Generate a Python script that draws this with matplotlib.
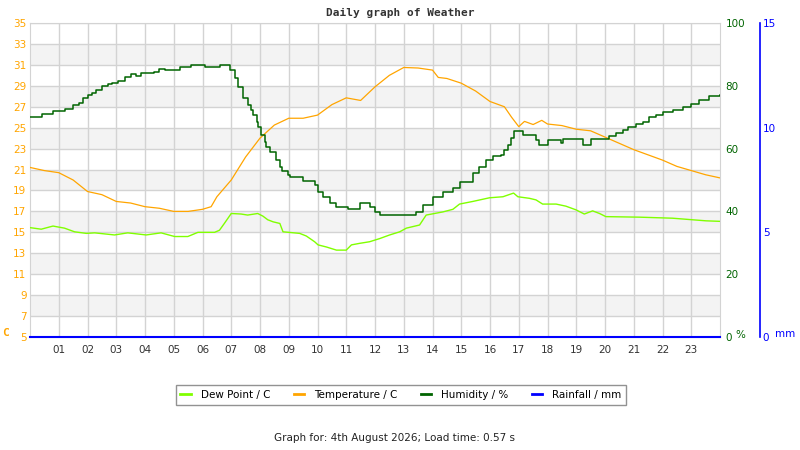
import matplotlib
matplotlib.use("Agg")
import matplotlib.pyplot as plt
from matplotlib.lines import Line2D

# valores (hora do dia -> valor)
temp_hours = [0, 0.5, 1, 1.5, 2, 2.5, 3, 3.5, 4, 4.5, 5, 5.5, 6, 6.3, 6.5, 7, 7.5, 8,
              8.5, 9, 9.5, 10, 10.5, 11, 11.5, 12, 12.5, 13, 13.5, 14, 14.2, 14.5, 15,
              15.5, 16, 16.5, 16.75, 17, 17.2, 17.5, 17.8, 18, 18.5, 19, 19.5, 20,
              20.5, 21, 21.5, 22, 22.5, 23, 23.5, 24]
temp_c = [21.2, 20.9, 20.7, 20.0, 18.9, 18.6, 17.95, 17.8, 17.45, 17.3, 17.0, 17.0, 17.2,
          17.45, 18.4, 20.0, 22.2, 24.0, 25.25, 25.9, 25.9, 26.2, 27.2, 27.85, 27.6,
          28.9, 30.0, 30.75, 30.7, 30.5, 29.8, 29.7, 29.25, 28.5, 27.5, 27.0, 26.0,
          25.1, 25.6, 25.3, 25.7, 25.35, 25.2, 24.85, 24.7, 24.1, 23.5, 22.9, 22.4,
          21.9, 21.3, 20.9, 20.5, 20.2]

dew_hours = [0, 0.39, 0.8, 1.2, 1.55, 1.96, 2.25, 2.94, 3.4, 4.04, 4.56, 5.03, 5.49,
             5.84, 6.42, 6.59, 6.76, 7.0, 7.34, 7.57, 7.92, 8.1, 8.27, 8.46, 8.69, 8.8,
             9.38, 9.61, 9.9, 10.02, 10.31, 10.66, 11.0, 11.18, 11.47, 11.81, 12.16,
             12.51, 12.86, 13.09, 13.55, 13.78, 14.36, 14.71, 14.94, 15.4, 15.98,
             16.45, 16.82, 16.97, 17.37, 17.6, 17.83, 18.3, 18.64, 18.99, 19.28,
             19.57, 19.81, 20.03, 21.19, 22.35, 23.51, 24]
dew_c = [15.45, 15.3, 15.6, 15.4, 15.05, 14.9, 14.95, 14.75, 14.95, 14.75, 14.95, 14.6,
         14.6, 15.0, 15.0, 15.2, 15.85, 16.8, 16.75, 16.65, 16.8, 16.55, 16.2, 16.0,
         15.85, 15.05, 14.9, 14.65, 14.1, 13.8, 13.6, 13.3, 13.3, 13.8, 13.95, 14.1,
         14.4, 14.75, 15.05, 15.4, 15.7, 16.65, 16.95, 17.2, 17.7, 17.95, 18.3, 18.4,
         18.75, 18.4, 18.25, 18.1, 17.7, 17.7, 17.5, 17.15, 16.75, 17.05, 16.8, 16.5,
         16.45, 16.35, 16.1, 16.05]

hum_hours = [0, 0.4, 0.8, 1.2, 1.5, 1.7, 1.85, 2.0, 2.15, 2.3, 2.5, 2.7, 2.85, 3.05,
             3.3, 3.5, 3.7, 3.85, 4.3, 4.5, 4.7, 5.2, 5.6, 6.1, 6.6, 6.95, 7.12, 7.24,
             7.41, 7.59, 7.7, 7.76, 7.88, 7.93, 8.05, 8.17, 8.22, 8.34, 8.57, 8.69,
             8.75, 8.98, 9.03, 9.5, 9.9, 10.02, 10.2, 10.42, 10.66, 11.06, 11.47,
             11.81, 11.99, 12.16, 13.43, 13.66, 14.01, 14.36, 14.71, 14.94, 15.4,
             15.63, 15.87, 16.1, 16.39, 16.5, 16.62, 16.74, 16.85, 17.14, 17.6, 17.72,
             18.01, 18.47, 18.53, 19.22, 19.52, 20.15, 20.39, 20.62, 20.79, 21.08,
             21.31, 21.54, 21.77, 22.01, 22.35, 22.7, 22.99, 23.28, 23.63, 24]
hum_pct = [70, 71, 72, 72.5, 74, 74.6, 76, 77, 77.8, 78.7, 80, 80.5, 80.8, 81.6, 82.9,
           83.7, 83.1, 84, 84.5, 85.5, 85, 85.9, 86.6, 86.1, 86.6, 85.0, 82.4, 79.7,
           76.0, 73.9, 72.3, 70.7, 68.6, 67.0, 64.3, 62.2, 60.6, 59.0, 56.4, 54.2,
           52.9, 51.6, 51.1, 49.7, 48.4, 46.3, 44.7, 42.6, 41.5, 40.7, 42.6, 41.5,
           39.9, 38.9, 39.9, 42, 44.7, 46.3, 47.3, 49.5, 52.1, 54.2, 56.4, 57.6, 58,
           59.6, 61.1, 63.3, 65.7, 64.3, 62.7, 61.1, 62.7, 61.9, 63, 61.1, 63, 64,
           64.9, 65.9, 66.8, 67.9, 68.6, 70, 70.7, 71.5, 72.3, 73.1, 74.3, 75.5, 76.6,
           77.1]

rain_hours = [0, 6, 12, 18, 24]
rain_mm = [0, 0, 0, 0, 0]

hour_labels = ["%02d" % h for h in range(1, 24)]
temp_ticks = list(range(5, 36, 2))

ORANGE = "#FFA500"
LIME = "#80FF00"
DKGREEN = "#006400"
BLUE = "#0000FF"
GRID = "#D3D3D3"


def px(x, y):
    return x / 800, 1 - y / 450


fig = plt.figure(figsize=(8, 4.5), dpi=100)
ax = fig.add_axes([30 / 800, 1 - 337 / 450, 690 / 800, 314 / 450])

# faixas cinzas alternadas
for lo in range(7, 35, 4):
    ax.axhspan(lo, lo + 2, color="#F3F3F3", zorder=0, lw=0)

ax.set_xlim(0, 24)
ax.set_ylim(5, 35)
ax.set_yticks(temp_ticks)
ax.set_xticks(range(1, 24))
ax.set_xticklabels(hour_labels)
ax.grid(True, color=GRID, lw=1, zorder=1)
ax.set_axisbelow(True)
ax.tick_params(axis="y", length=0, pad=2.5, labelsize=7.5, labelcolor=ORANGE)
ax.tick_params(axis="x", length=0, pad=6, labelsize=7.5, labelcolor="#333333")
for s in ax.spines.values():
    s.set_color(GRID)

ax_h = ax.twinx()
ax_h.set_ylim(0, 100)
ax_h.set_yticks([0, 20, 40, 60, 80, 100])
ax_h.tick_params(axis="y", length=0, pad=4, labelsize=7.5, labelcolor=DKGREEN)
for s in ax_h.spines.values():
    s.set_visible(False)

ax_r = ax.twinx()
ax_r.set_ylim(0, 15)
ax_r.set_yticks([0, 5, 10, 15])
ax_r.spines["right"].set_position(("axes", (760 - 30) / 690))
for name, s in ax_r.spines.items():
    s.set_visible(name == "right")
ax_r.spines["right"].set_color(BLUE)
ax_r.spines["right"].set_linewidth(1.2)
ax_r.tick_params(axis="y", length=0, pad=2, labelsize=7.5, labelcolor=BLUE)

ax.plot(dew_hours, dew_c, color=LIME, lw=1.0, zorder=3)
ax.plot(temp_hours, temp_c, color=ORANGE, lw=0.9, zorder=3)
ax_h.plot(hum_hours, hum_pct, color=DKGREEN, lw=1.1, drawstyle="steps-post")
ax_r.plot(rain_hours, rain_mm, color=BLUE, lw=1.5, clip_on=False)

fig.text(*px(400, 13), "Daily graph of Weather", ha="center", va="center",
         fontsize=8, fontweight="bold", family="DejaVu Sans Mono", color="#333333")
fig.text(*px(2, 333), "C", ha="left", va="center", fontsize=8, fontweight="bold",
         family="DejaVu Sans Mono", color=ORANGE)
fig.text(*px(735, 335), "%", ha="left", va="center", fontsize=7.5, color=DKGREEN)
fig.text(*px(775, 334), "mm", ha="left", va="center", fontsize=7.5, color=BLUE)
fig.text(*px(394, 438), "Graph for: 4th August 2026; Load time: 0.57 s",
         ha="center", va="center", fontsize=7.5, color="#222222")

handles = [Line2D([], [], color=c, lw=2) for c in (LIME, ORANGE, DKGREEN, BLUE)]
labels = ["Dew Point / C", "Temperature / C", "Humidity / %", "Rainfall / mm"]
leg = fig.legend(handles, labels, loc="center", bbox_to_anchor=px(401, 395), ncol=4,
                 fontsize=7.5, frameon=True, fancybox=False, handlelength=1.0,
                 handletextpad=1.0, columnspacing=2.2, borderpad=0.45)
leg.get_frame().set_edgecolor("#777777")
leg.get_frame().set_linewidth(1.0)

fig.savefig("out.png", dpi=100)
